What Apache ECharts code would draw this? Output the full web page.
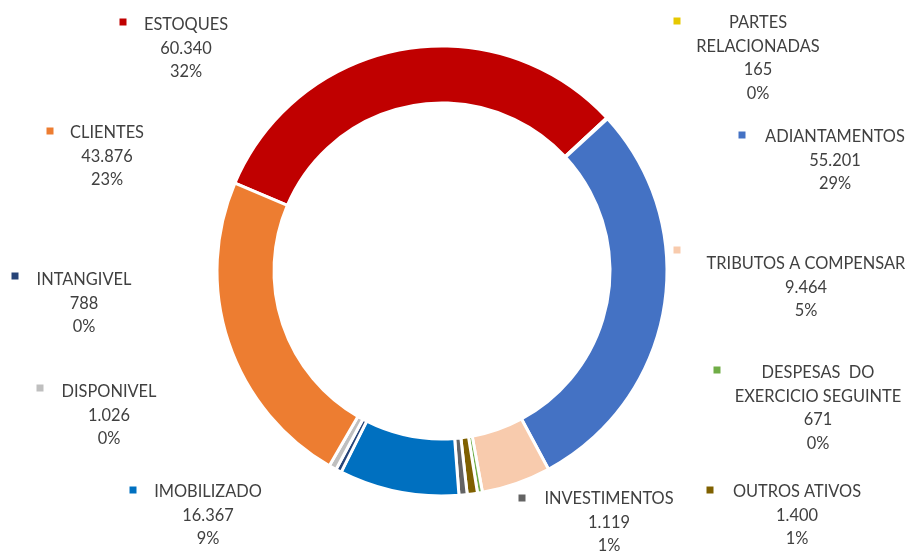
<!DOCTYPE html>
<html>
<head>
<meta charset="utf-8">
<script src="https://cdn.jsdelivr.net/npm/echarts@6/dist/echarts.min.js"></script>
<style>
html,body{margin:0;padding:0;background:#fff;}
#chart{width:909px;height:553px;}
</style>
</head>
<body>
<div id="chart"></div>
<script>
// ---- data ----
var categories = ['ESTOQUES', 'PARTES\nRELACIONADAS', 'ADIANTAMENTOS', 'TRIBUTOS A COMPENSAR',
  'DESPESAS  DO\nEXERCICIO SEGUINTE', 'OUTROS ATIVOS', 'INVESTIMENTOS', 'IMOBILIZADO',
  'INTANGIVEL', 'DISPONIVEL', 'CLIENTES'];
var values = [60340, 165, 55201, 9464, 671, 1400, 1119, 16367, 788, 1026, 43876];
var percentLabels = [32, 0, 29, 5, 0, 1, 1, 9, 0, 0, 23];

// ---- styles / layout ----
var colors = ['#C00000', '#E6C800', '#4472C4', '#F8CBAD', '#70AD47', '#7F6000', '#636363',
  '#0070C0', '#264478', '#BFBFBF', '#ED7D31'];
// label text anchor: center x, center y of first line
var labelPos = [[186,25],[758,23],[835,137],[806,264],[818,373],[797,492],[609,499],[208,492],[84,280],[109,392],[107,133]];
// legend-key marker centers
var markerPos = [[123,22],[677,21],[742,135],[677,250],[717,370],[710,490],[522,498],[133,490],[15,276],[40,388],[50,131]];
var LH = 23.5;

function fmt(v){ return String(v).replace(/\B(?=(\d{3})+(?!\d))/g, '.'); }

var pieData = categories.map(function(c, i){
  return { name: c, value: values[i], itemStyle: { color: colors[i] } };
});
var markerData = categories.map(function(c, i){
  return { name: c, value: values[i],
    label: { rich: { m: { width: 7, height: 7, lineHeight: 7, fontSize: 7, backgroundColor: colors[i] } } } };
});

var chart = echarts.init(document.getElementById('chart'), null, { renderer: 'canvas' });
chart.setOption({
  backgroundColor: '#ffffff',
  animation: false,
  series: [
    {
      type: 'pie',
      center: [442, 271],
      radius: [168, 225],
      startAngle: 157,
      clockwise: true,
      avoidLabelOverlap: false,
      itemStyle: { borderColor: '#ffffff', borderWidth: 3 },
      emphasis: { disabled: true },
      labelLine: { show: false },
      label: {
        show: true,
        position: 'outside',
        color: '#404040',
        fontFamily: 'Lato',
        fontSize: 16.4,
        lineHeight: LH,
        align: 'center',
        formatter: function(p){
          return p.name + '\n' + fmt(p.value) + '\n' + percentLabels[p.dataIndex] + '%';
        }
      },
      labelLayout: function(p){
        var pos = labelPos[p.dataIndex];
        return { x: pos[0], y: pos[1] - LH / 2, align: 'center', verticalAlign: 'top' };
      },
      data: pieData
    },
    {
      type: 'pie',
      center: [442, 271],
      radius: [0, 1],
      startAngle: 157,
      silent: true,
      itemStyle: { color: 'rgba(0,0,0,0)' },
      labelLine: { show: false },
      emphasis: { disabled: true },
      label: { show: true, position: 'outside', formatter: '{m| }' },
      labelLayout: function(p){
        var pos = markerPos[p.dataIndex];
        return { x: pos[0], y: pos[1], align: 'center', verticalAlign: 'middle' };
      },
      data: markerData
    }
  ]
});
</script>
</body>
</html>
